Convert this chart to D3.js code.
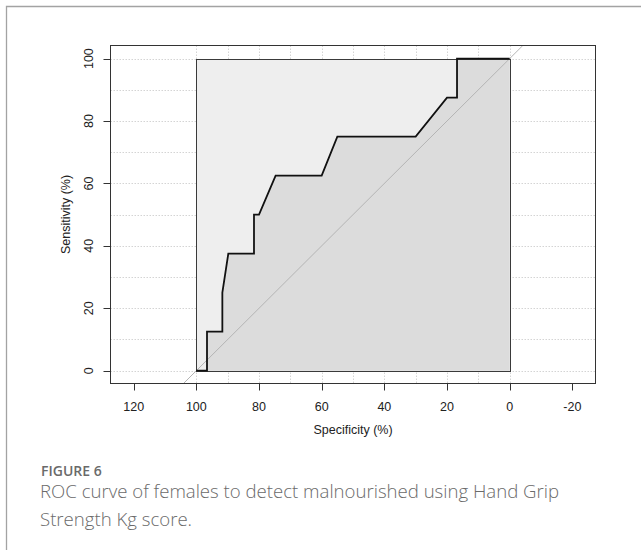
<!DOCTYPE html>
<html>
<head>
<meta charset="utf-8">
<script src="https://cdn.jsdelivr.net/npm/d3@7"></script>
<style>
  body { margin: 0; background: #fff; }
  svg { display: block; }
</style>
</head>
<body>
<svg id="chart" width="641" height="550"></svg>
<script>
// ROC curve points (specificity %, sensitivity %)
const specificity = [100, 96.6, 96.6, 91.7, 91.7, 89.8, 81.6, 81.6, 80, 74.7, 60, 55, 30, 20, 16.8, 16.8, 0];
const sensitivity = [0, 0, 12.5, 12.5, 25, 37.5, 37.5, 50, 50, 62.5, 62.5, 75, 75, 87.5, 87.5, 100, 100];

const xTicks = [120, 100, 80, 60, 40, 20, 0, -20];
const yTicks = [0, 20, 40, 60, 80, 100];
const gridValues = [0, 10, 20, 30, 40, 50, 60, 70, 80, 90, 100];

const captionLabel = 'FIGURE 6';
const captionLines = [
  'ROC curve of females to detect malnourished using Hand Grip',
  'Strength Kg score.'
];

const svg = d3.select('#chart');
const font = '"Liberation Sans", Arial, sans-serif';

// plot region
const plotLeft = 110.5, plotRight = 595.5, plotTop = 45.5, plotBottom = 383.5;

const x = d3.scaleLinear().domain([127.4, -27.4]).range([plotLeft, plotRight]);
const y = d3.scaleLinear().domain([-4.1, 104.2]).range([plotBottom, plotTop]);

// outer figure frame
svg.append('path')
  .attr('d', 'M6.5,550 V6.5 H641')
  .attr('fill', 'none')
  .attr('stroke', '#a3a3a3')
  .attr('stroke-width', 1.3);

svg.append('clipPath')
  .attr('id', 'plotClip')
  .append('rect')
  .attr('x', plotLeft)
  .attr('y', plotTop)
  .attr('width', plotRight - plotLeft)
  .attr('height', plotBottom - plotTop);

const plot = svg.append('g').attr('clip-path', 'url(#plotClip)');

// dotted grid
plot.selectAll('line.hgrid')
  .data(gridValues)
  .join('line')
  .attr('class', 'hgrid')
  .attr('x1', plotLeft)
  .attr('x2', plotRight)
  .attr('y1', (d) => Math.round(y(d)) + 0.5)
  .attr('y2', (d) => Math.round(y(d)) + 0.5)
  .attr('stroke', '#d4d4d4')
  .attr('stroke-dasharray', '1.5,1.5');

plot.selectAll('line.vgrid')
  .data(gridValues)
  .join('line')
  .attr('class', 'vgrid')
  .attr('x1', (d) => Math.round(x(d)) + 0.5)
  .attr('x2', (d) => Math.round(x(d)) + 0.5)
  .attr('y1', plotTop)
  .attr('y2', plotBottom)
  .attr('stroke', '#d4d4d4')
  .attr('stroke-dasharray', '1.5,1.5');

// max AUC polygon
const boxX = Math.round(x(100)) + 0.5;
const boxY = Math.round(y(100)) + 0.5;
const boxW = Math.round(x(0)) - Math.round(x(100));
const boxH = Math.round(y(0)) - Math.round(y(100));

plot.append('rect')
  .attr('x', boxX)
  .attr('y', boxY)
  .attr('width', boxW)
  .attr('height', boxH)
  .attr('fill', '#eeeeee');

// AUC polygon under the curve
const pts = specificity.map((s, i) => [s, sensitivity[i]]);
const area = d3.area()
  .x((d) => x(d[0]))
  .y0(y(0))
  .y1((d) => y(d[1]));

plot.append('path')
  .datum(pts)
  .attr('d', area)
  .attr('fill', '#dcdcdc');

// identity line
plot.append('line')
  .attr('x1', x(104.2))
  .attr('y1', y(-4.2))
  .attr('x2', x(-4.2))
  .attr('y2', y(104.2))
  .attr('stroke', '#b4b4b4')
  .attr('stroke-width', 1);

// border of the max polygon
plot.append('rect')
  .attr('x', boxX)
  .attr('y', boxY)
  .attr('width', boxW)
  .attr('height', boxH)
  .attr('fill', 'none')
  .attr('stroke', '#3a3a3a')
  .attr('stroke-width', 1);

// ROC curve
plot.append('path')
  .datum(pts)
  .attr('d', d3.line().x((d) => x(d[0])).y((d) => y(d[1])))
  .attr('fill', 'none')
  .attr('stroke', '#111')
  .attr('stroke-width', 1.8)
  .attr('stroke-linejoin', 'miter');

// plot box
svg.append('rect')
  .attr('x', plotLeft)
  .attr('y', plotTop)
  .attr('width', plotRight - plotLeft)
  .attr('height', plotBottom - plotTop)
  .attr('fill', 'none')
  .attr('stroke', '#333')
  .attr('stroke-width', 1);

// bottom axis
const xAxis = svg.append('g');
xAxis.selectAll('line')
  .data(xTicks)
  .join('line')
  .attr('x1', (d) => Math.round(x(d)) + 0.5)
  .attr('x2', (d) => Math.round(x(d)) + 0.5)
  .attr('y1', plotBottom)
  .attr('y2', plotBottom + 7)
  .attr('stroke', '#333');
xAxis.selectAll('text')
  .data(xTicks)
  .join('text')
  .attr('x', (d) => x(d))
  .attr('y', 411)
  .attr('text-anchor', 'middle')
  .attr('font-family', font)
  .attr('font-size', 12.5)
  .attr('fill', '#222')
  .text((d) => d);

// left axis, labels parallel to the axis
const yAxis = svg.append('g');
yAxis.selectAll('line')
  .data(yTicks)
  .join('line')
  .attr('x1', plotLeft - 7)
  .attr('x2', plotLeft)
  .attr('y1', (d) => Math.round(y(d)) + 0.5)
  .attr('y2', (d) => Math.round(y(d)) + 0.5)
  .attr('stroke', '#333');
yAxis.selectAll('text')
  .data(yTicks)
  .join('text')
  .attr('transform', (d) => `translate(93,${y(d)}) rotate(-90)`)
  .attr('text-anchor', 'middle')
  .attr('font-family', font)
  .attr('font-size', 12.5)
  .attr('fill', '#222')
  .text((d) => d);

// axis titles
svg.append('text')
  .attr('x', (plotLeft + plotRight) / 2)
  .attr('y', 433.5)
  .attr('text-anchor', 'middle')
  .attr('font-family', font)
  .attr('font-size', 12.5)
  .attr('fill', '#222')
  .text('Specificity (%)');

svg.append('text')
  .attr('transform', `translate(69.5,${(plotTop + plotBottom) / 2}) rotate(-90)`)
  .attr('text-anchor', 'middle')
  .attr('font-family', font)
  .attr('font-size', 12.5)
  .attr('fill', '#222')
  .text('Sensitivity (%)');

// figure caption
svg.append('text')
  .attr('x', 41)
  .attr('y', 475.5)
  .attr('font-family', '"Open Sans", sans-serif')
  .attr('font-size', 14)
  .attr('font-weight', 600)
  .attr('fill', '#6a6a6a')
  .text(captionLabel);

svg.selectAll('text.caption')
  .data(captionLines)
  .join('text')
  .attr('class', 'caption')
  .attr('x', 40)
  .attr('y', (d, i) => 498 + i * 28)
  .attr('font-family', '"Open Sans", sans-serif')
  .attr('font-size', 18.6)
  .attr('font-weight', 300)
  .attr('fill', '#6a6a6a')
  .text((d) => d);
</script>
</body>
</html>
